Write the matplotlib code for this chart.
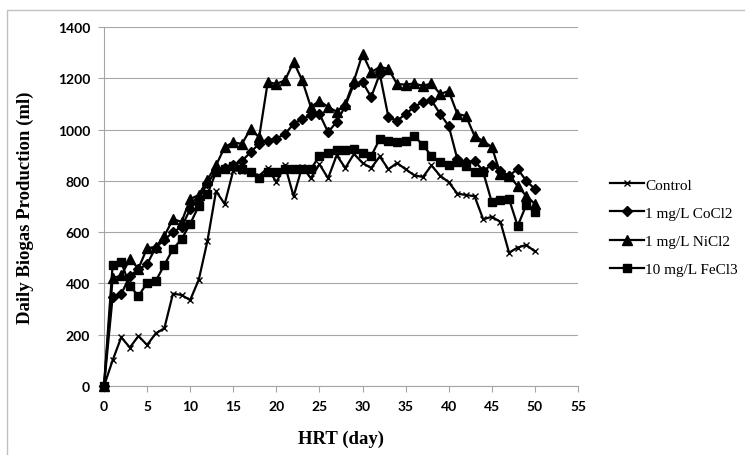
import matplotlib
matplotlib.use("Agg")
import matplotlib.pyplot as plt
from matplotlib.patches import Rectangle

# ---------------- data ----------------
days = list(range(51))

control = [0, 100, 190, 150, 195, 160, 205, 225, 360, 355, 335,
           415, 565, 760, 710, 840, 840, 830, 820, 850, 795,
           860, 740, 855, 810, 865, 810, 900, 850, 905, 870,
           850, 895, 845, 870, 845, 822, 815, 860, 820, 795,
           750, 745, 740, 650, 660, 640, 520, 540, 550, 525]

cocl2 = [0, 347, 358, 430, 455, 475, 540, 570, 600, 620, 690,
         730, 790, 840, 850, 860, 877, 912, 944, 957, 965,
         983, 1022, 1042, 1055, 1061, 990, 1030, 1092, 1178, 1185,
         1127, 1217, 1049, 1034, 1061, 1088, 1108, 1114, 1061, 1014,
         885, 873, 877, 840, 862, 839, 820, 846, 800, 768]

nicl2 = [0, 420, 431, 495, 458, 538, 542, 585, 651, 640, 729,
         745, 805, 860, 932, 950, 944, 1002, 970, 1185, 1178,
         1192, 1264, 1192, 1088, 1112, 1088, 1070, 1100, 1190, 1295,
         1224, 1244, 1237, 1178, 1175, 1180, 1170, 1180, 1139, 1150,
         1061, 1053, 975, 955, 932, 827, 820, 780, 741, 710]

fecl3 = [0, 472, 483, 390, 351, 402, 409, 472, 534, 573, 632,
         703, 748, 834, 846, 858, 846, 834, 811, 834, 835,
         846, 846, 846, 846, 897, 910, 922, 922, 925, 910,
         897, 963, 955, 950, 955, 975, 940, 897, 873, 863,
         873, 858, 834, 834, 717, 725, 729, 624, 706, 678]

series_labels = ["Control", "1 mg/L CoCl2", "1 mg/L NiCl2", "10 mg/L FeCl3"]
x_ticks = list(range(0, 56, 5))
y_ticks = list(range(0, 1401, 200))

# ---------------- figure ----------------
W, H = 745, 456
fig = plt.figure(figsize=(W / 100, H / 100), dpi=100)
ax = fig.add_axes([104 / W, 1 - 387 / H, 474 / W, 359 / H])

# chart-area border (cut off at right / bottom in the original)
fig.add_artist(Rectangle((7 / W, -0.1), 1.2, 1 - 11 / H + 0.1,
                         transform=fig.transFigure, fill=False,
                         edgecolor="#c0c0c0", lw=1.0))

grey = "#a6a6a6"
line_kw = dict(color="black", lw=1.6, clip_on=False, zorder=3)

ax.plot(days, control, marker="x", ms=5, mew=1.0, label=series_labels[0], **line_kw)
ax.plot(days, cocl2, marker="D", ms=5.5, label=series_labels[1], **line_kw)
ax.plot(days, nicl2, marker="^", ms=6.5, label=series_labels[2], **line_kw)
ax.plot(days, fecl3, marker="s", ms=5.5, label=series_labels[3], **line_kw)

ax.set_xlim(0, 55)
ax.set_ylim(0, 1400)
ax.set_xticks(x_ticks)
ax.set_yticks(y_ticks)
ax.yaxis.grid(True, color=grey, lw=0.8)
ax.set_axisbelow(True)

for s in ["top", "right"]:
    ax.spines[s].set_visible(False)
for s in ["left", "bottom"]:
    ax.spines[s].set_color(grey)
    ax.spines[s].set_linewidth(0.8)

ax.tick_params(direction="out", length=4, width=0.8, color=grey, pad=6)
for lab in ax.get_xticklabels() + ax.get_yticklabels():
    lab.set_family("Lato")
    lab.set_fontweight("bold")
    lab.set_fontsize(10)

ax.set_xlabel("HRT (day)", family="Liberation Serif", fontweight="bold",
              fontsize=13.5, labelpad=13)
ax.set_ylabel("Daily Biogas Production (ml)", family="Liberation Serif",
              fontweight="bold", fontsize=13.5, labelpad=17)

leg = fig.legend(loc="center left", bbox_to_anchor=(610 / W, 1 - 228 / H),
                 frameon=False, borderpad=0, borderaxespad=0,
                 prop={"family": "Liberation Serif", "size": 11},
                 handlelength=2.2, handletextpad=0.1, labelspacing=0.95)

fig.savefig("out.png", dpi=100, facecolor="white")
